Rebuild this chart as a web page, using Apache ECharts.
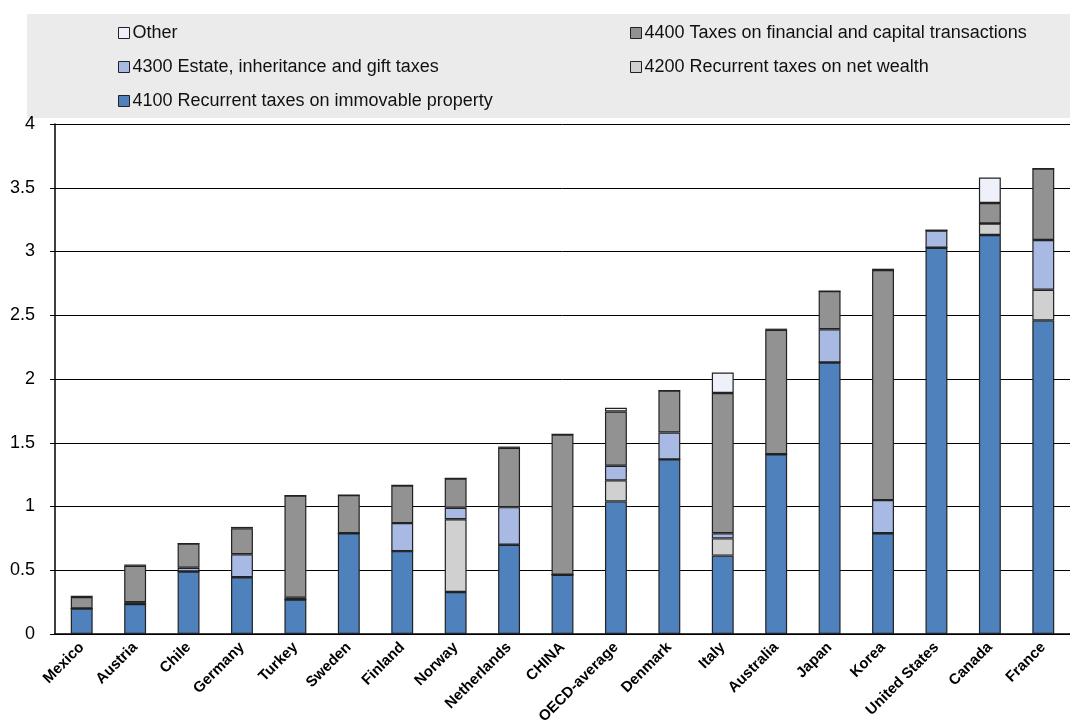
<!DOCTYPE html>
<html><head><meta charset="utf-8">
<script src="https://cdn.jsdelivr.net/npm/echarts@6/dist/echarts.min.js"></script>
<style>html,body{margin:0;padding:0;background:#fff}#c{width:1070px;height:720px}</style>
</head><body><div id="c"></div>
<script>
const categories = ["Mexico","Austria","Chile","Germany","Turkey","Sweden","Finland","Norway","Netherlands","CHINA","OECD-average","Denmark","Italy","Australia","Japan","Korea","United States","Canada","France"];
const s4100 = [0.20,0.235,0.49,0.445,0.27,0.79,0.65,0.33,0.70,0.465,1.04,1.37,0.615,1.41,2.13,0.79,3.03,3.13,2.46];
const s4200 = [0,0,0,0,0,0,0,0.57,0,0,0.165,0,0.135,0,0,0,0,0.09,0.24];
const s4300 = [0,0.015,0.03,0.18,0.015,0,0.22,0.09,0.295,0,0.115,0.21,0.04,0,0.26,0.26,0.135,0,0.39];
const s4400 = [0.09,0.285,0.19,0.205,0.80,0.30,0.295,0.23,0.465,1.10,0.425,0.33,1.10,0.975,0.30,1.805,0,0.16,0.56];
const sOther = [0.01,0.01,0,0.01,0,0,0,0,0.01,0,0.03,0,0.16,0.01,0,0.01,0,0.20,0];
const yTicks = [0,0.5,1,1.5,2,2.5,3,3.5,4];

const names = {o:"Other", a:"4400 Taxes on financial and capital transactions", b:"4300 Estate, inheritance and gift taxes", c:"4200 Recurrent taxes on net wealth", d:"4100 Recurrent taxes on immovable property"};
const colors = {o:"#EEF1F9", a:"#929292", b:"#A8B9E3", c:"#D0D0D0", d:"#4F81BD"};
const font = "'Liberation Sans',Arial,sans-serif";

function ser(key, data){
  return {name:names[key], type:'bar', stack:'t', data:data, barWidth:'41%',
    itemStyle:{color:colors[key], borderColor:'#222', borderWidth:1.2}};
}
function lg(key, left, top){
  return {data:[names[key]], left:left, top:top, icon:'rect', itemWidth:11, itemHeight:11, itemGap:0,
    textStyle:{fontFamily:font, fontSize:18, color:'#111', padding:[0,0,0,-2]},
    itemStyle:{borderColor:'#222', borderWidth:1}, selectedMode:false};
}
const chart = echarts.init(document.getElementById('c'));
chart.setOption({
  animation:false,
  graphic:[{type:'rect', shape:{x:27,y:14,width:1043,height:104}, style:{fill:'#EBEBEB'}, z:-10}],
  legend:[lg('o',113,19), lg('a',625,19), lg('b',113,53), lg('c',625,53), lg('d',113,87)],
  grid:{left:55, right:0, top:124, bottom:86, containLabel:false, outerBoundsMode:'none'},
  xAxis:{type:'category', data:categories,
    axisLine:{lineStyle:{color:'#000', width:1.5}},
    axisTick:{inside:true, length:5, lineStyle:{color:'#000'}},
    axisLabel:{rotate:45, fontFamily:font, fontWeight:'bold', fontSize:15, color:'#000', margin:11, interval:0}},
  yAxis:{type:'value', min:0, max:4, interval:0.5,
    axisLine:{show:true, lineStyle:{color:'#000', width:1.5}},
    axisTick:{show:true, length:5, lineStyle:{color:'#000'}},
    splitLine:{lineStyle:{color:'#000', width:1}},
    axisLabel:{fontFamily:font, fontSize:18, color:'#000', margin:20,
      formatter:function(v){return yTicks.indexOf(v)>=0 ? String(v) : '';}}},
  series:[ser('d',s4100), ser('c',s4200), ser('b',s4300), ser('a',s4400), ser('o',sOther)]
});
</script></body></html>
